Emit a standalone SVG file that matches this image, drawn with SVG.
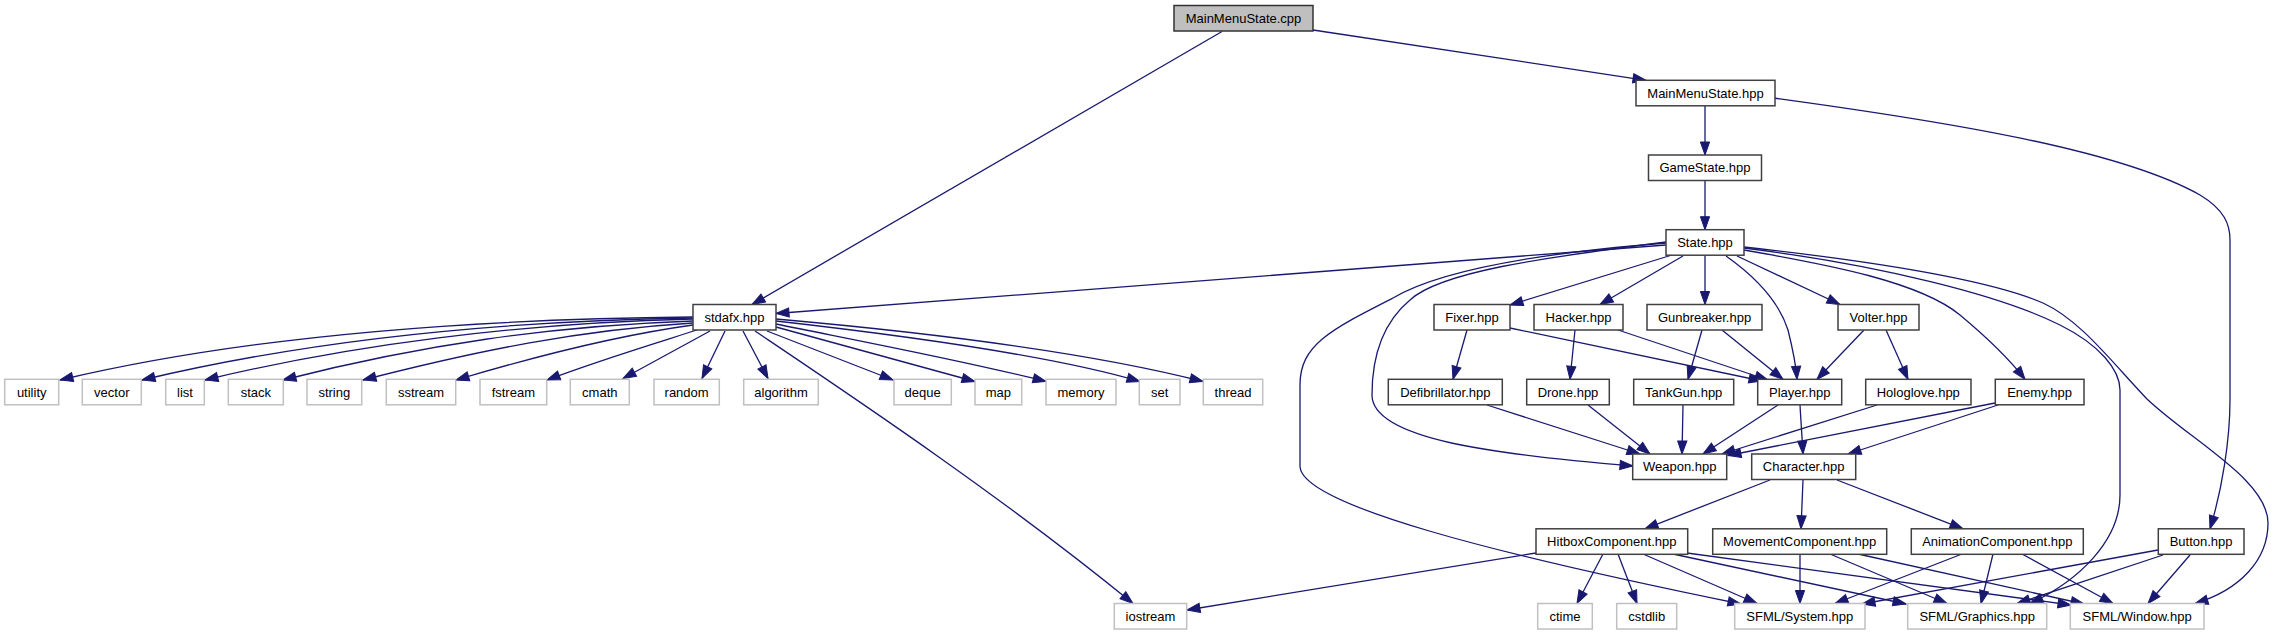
<svg xmlns="http://www.w3.org/2000/svg" width="2275" height="635" viewBox="0 0 2275 635">
<style>
.n rect{fill:#fff;stroke:#404040;stroke-width:1.5}
.l rect{fill:#fff;stroke:#c0c0c0;stroke-width:1.5}
.root rect{fill:#bfbfbf;stroke:#333;stroke-width:1.5}
text{font-family:"Liberation Sans",Arial,sans-serif;font-size:13px;fill:#000;text-anchor:middle}
#edges path{fill:none;stroke:#191970;stroke-width:1.3;marker-end:url(#a)}
</style>
<defs>
<marker id="a" markerUnits="userSpaceOnUse" markerWidth="14" markerHeight="10" refX="13" refY="5" orient="auto" overflow="visible">
<path d="M0,0.4 L13,5 L0,9.6 z" fill="#191970" stroke="#191970" stroke-width="1"/>
</marker>
</defs>
<rect width="2275" height="635" fill="#fff"/>
<g id="edges">
<path d="M1222,31.5 L752,304.5"/>
<path d="M1313,30 L1646,80.3"/>
<path d="M1705,106 L1705,155"/>
<path d="M1705,180.5 L1705,229.7"/>
<path d="M1774,98 C1950,122 2120,150 2200,195 C2225,210 2230,225 2230,240 L2230,400 C2230,440 2222,490 2210,528.8"/>
<path d="M1666,245 L776,313.5"/>
<path d="M1666,243 C1540,253 1440,270 1393,298 C1330,330 1300,345 1300,385 L1300,466 C1300,505 1500,555 1741,604"/>
<path d="M1666,242 C1540,258 1440,272 1410,300 C1380,325 1372,360 1372,395 C1372,440 1500,455 1633,466"/>
<path d="M1672,255 L1510,305"/>
<path d="M1683,256 L1600,304.5"/>
<path d="M1705,255.2 L1705,304.5"/>
<path d="M1726,256 C1760,280 1780,305 1788,330 C1793,350 1796,365 1797,379.3"/>
<path d="M1737,256 L1840,304.5"/>
<path d="M1744,250 C1830,265 1920,282 1960,315 C1990,340 2010,360 2025,379.3"/>
<path d="M1744,248 C1880,265 2000,295 2060,325 C2100,345 2120,370 2120,390 L2120,495 C2120,540 2080,580 2030,603.5"/>
<path d="M1744,247 C1880,262 1990,280 2043,303 C2080,320 2110,360 2147,399 C2190,440 2268,480 2268,523 C2268,560 2240,590 2195,603.5"/>
<path d="M1467,330 L1453,379.3"/>
<path d="M1510,328 L1762,381"/>
<path d="M1575,330 L1570,379.3"/>
<path d="M1618,330 L1768,380"/>
<path d="M1702,330 L1688,379.3"/>
<path d="M1722,330 L1783,379.3"/>
<path d="M1864,330 L1817,379.3"/>
<path d="M1886,330 L1908,379.3"/>
<path d="M1487,405 L1640,454"/>
<path d="M1588,405 L1650,454"/>
<path d="M1683,405 L1682,454"/>
<path d="M1778,405 L1703,454"/>
<path d="M1800,405 L1803,454"/>
<path d="M1877,405 L1722,454"/>
<path d="M1995,403 L1728,455.5"/>
<path d="M1998,405 L1848,454"/>
<path d="M1770,480 L1645,528.8"/>
<path d="M1803,480 L1801,528.8"/>
<path d="M1837,480 L1963,528.8"/>
<path d="M1536,553 L1187,610"/>
<path d="M1603,554 L1577,603.5"/>
<path d="M1618,554 L1637,603.5"/>
<path d="M1643,554 L1757,603.5"/>
<path d="M1673,554 L1906,604"/>
<path d="M1687,553 L2071,605"/>
<path d="M1800,554 L1800,603.5"/>
<path d="M1830,554 L1947,603.5"/>
<path d="M1858,554 L2084,604"/>
<path d="M1962,554 L1835,603.5"/>
<path d="M1993,554 L1981,603.5"/>
<path d="M2022,554 L2113,603.5"/>
<path d="M2158,550 L1862,604"/>
<path d="M2163,555 L2017,603.5"/>
<path d="M2190,555 L2148,603.5"/>
<path d="M693,317 C480,319 250,335 60,380"/>
<path d="M693,318 C500,321 310,340 142,380"/>
<path d="M693,319 C520,323 350,345 205,380"/>
<path d="M693,321 C550,326 420,345 283,380"/>
<path d="M693,323 C580,330 480,350 363,380"/>
<path d="M693,325 C620,335 540,355 456,380"/>
<path d="M697,330 C650,345 600,360 547,380"/>
<path d="M710,331 L623,378.5"/>
<path d="M725,331 L702,378.5"/>
<path d="M743,331 L768,378.5"/>
<path d="M755,331 C850,395 1000,495 1133,603.5"/>
<path d="M767,331 L893,380"/>
<path d="M776,327 L975,381.5"/>
<path d="M776,324 C880,345 970,362 1046,381.5"/>
<path d="M776,321 C900,335 1050,355 1140,381.5"/>
<path d="M776,319 C900,330 1080,350 1203,381.5"/>
</g>
<g id="n_mainmenustate_cpp" class="root"><rect x="1174" y="5.5" width="139" height="25.5"/><text x="1243.5" y="22.8">MainMenuState.cpp</text></g>
<g id="n_mainmenustate_hpp" class="n"><rect x="1636" y="80.3" width="139" height="25.5"/><text x="1705.5" y="97.6">MainMenuState.hpp</text></g>
<g id="n_gamestate" class="n"><rect x="1648.5" y="155" width="113" height="25.5"/><text x="1705" y="172.3">GameState.hpp</text></g>
<g id="n_state" class="n"><rect x="1666" y="229.7" width="78" height="25.5"/><text x="1705" y="247">State.hpp</text></g>
<g id="n_stdafx" class="n"><rect x="693" y="304.5" width="83" height="25.5"/><text x="734.5" y="321.8">stdafx.hpp</text></g>
<g id="n_fixer" class="n"><rect x="1434" y="304.5" width="76" height="25.5"/><text x="1472" y="321.8">Fixer.hpp</text></g>
<g id="n_hacker" class="n"><rect x="1534" y="304.5" width="89" height="25.5"/><text x="1578.5" y="321.8">Hacker.hpp</text></g>
<g id="n_gunbreaker" class="n"><rect x="1647" y="304.5" width="115" height="25.5"/><text x="1704.5" y="321.8">Gunbreaker.hpp</text></g>
<g id="n_volter" class="n"><rect x="1838" y="304.5" width="81" height="25.5"/><text x="1878.5" y="321.8">Volter.hpp</text></g>
<g id="n_utility" class="l"><rect x="4.7" y="379.3" width="54" height="25.5"/><text x="31.7" y="396.6">utility</text></g>
<g id="n_vector" class="l"><rect x="82.3" y="379.3" width="59" height="25.5"/><text x="111.8" y="396.6">vector</text></g>
<g id="n_list" class="l"><rect x="165.7" y="379.3" width="38.6" height="25.5"/><text x="185" y="396.6">list</text></g>
<g id="n_stack" class="l"><rect x="228.3" y="379.3" width="55" height="25.5"/><text x="255.8" y="396.6">stack</text></g>
<g id="n_string" class="l"><rect x="307" y="379.3" width="54.7" height="25.5"/><text x="334.3" y="396.6">string</text></g>
<g id="n_sstream" class="l"><rect x="386.3" y="379.3" width="69.4" height="25.5"/><text x="421" y="396.6">sstream</text></g>
<g id="n_fstream" class="l"><rect x="480" y="379.3" width="66.7" height="25.5"/><text x="513.3" y="396.6">fstream</text></g>
<g id="n_cmath" class="l"><rect x="570.3" y="379.3" width="59" height="25.5"/><text x="599.8" y="396.6">cmath</text></g>
<g id="n_random" class="l"><rect x="654" y="379.3" width="65.3" height="25.5"/><text x="686.6" y="396.6">random</text></g>
<g id="n_algorithm" class="l"><rect x="743.7" y="379.3" width="74.6" height="25.5"/><text x="781" y="396.6">algorithm</text></g>
<g id="n_deque" class="l"><rect x="894" y="379.3" width="57.3" height="25.5"/><text x="922.6" y="396.6">deque</text></g>
<g id="n_map" class="l"><rect x="975" y="379.3" width="46.7" height="25.5"/><text x="998.3" y="396.6">map</text></g>
<g id="n_memory" class="l"><rect x="1046" y="379.3" width="70" height="25.5"/><text x="1081" y="396.6">memory</text></g>
<g id="n_set" class="l"><rect x="1139.3" y="379.3" width="40.7" height="25.5"/><text x="1159.6" y="396.6">set</text></g>
<g id="n_thread" class="l"><rect x="1203.3" y="379.3" width="59.4" height="25.5"/><text x="1233" y="396.6">thread</text></g>
<g id="n_defibrillator" class="n"><rect x="1388.3" y="379.3" width="114" height="25.5"/><text x="1445.3" y="396.6">Defibrillator.hpp</text></g>
<g id="n_drone" class="n"><rect x="1526.7" y="379.3" width="82.6" height="25.5"/><text x="1568" y="396.6">Drone.hpp</text></g>
<g id="n_tankgun" class="n"><rect x="1633.7" y="379.3" width="100" height="25.5"/><text x="1683.7" y="396.6">TankGun.hpp</text></g>
<g id="n_player" class="n"><rect x="1757.7" y="379.3" width="84" height="25.5"/><text x="1799.7" y="396.6">Player.hpp</text></g>
<g id="n_hologlove" class="n"><rect x="1865.7" y="379.3" width="105.3" height="25.5"/><text x="1918.3" y="396.6">Hologlove.hpp</text></g>
<g id="n_enemy" class="n"><rect x="1995.3" y="379.3" width="88.7" height="25.5"/><text x="2039.6" y="396.6">Enemy.hpp</text></g>
<g id="n_weapon" class="n"><rect x="1632.7" y="454" width="94" height="25.5"/><text x="1679.7" y="471.3">Weapon.hpp</text></g>
<g id="n_character" class="n"><rect x="1751.7" y="454" width="104" height="25.5"/><text x="1803.7" y="471.3">Character.hpp</text></g>
<g id="n_hitbox" class="n"><rect x="1536" y="528.8" width="151.7" height="25.5"/><text x="1611.8" y="546.1">HitboxComponent.hpp</text></g>
<g id="n_movement" class="n"><rect x="1712.7" y="528.8" width="174" height="25.5"/><text x="1799.7" y="546.1">MovementComponent.hpp</text></g>
<g id="n_animation" class="n"><rect x="1911.3" y="528.8" width="172" height="25.5"/><text x="1997.3" y="546.1">AnimationComponent.hpp</text></g>
<g id="n_button" class="n"><rect x="2158.3" y="528.8" width="85.7" height="25.5"/><text x="2201.1" y="546.1">Button.hpp</text></g>
<g id="n_iostream" class="l"><rect x="1114.3" y="603.5" width="72.4" height="25.5"/><text x="1150.5" y="620.8">iostream</text></g>
<g id="n_ctime" class="l"><rect x="1537.7" y="603.5" width="54.6" height="25.5"/><text x="1565" y="620.8">ctime</text></g>
<g id="n_cstdlib" class="l"><rect x="1616.7" y="603.5" width="60" height="25.5"/><text x="1646.7" y="620.8">cstdlib</text></g>
<g id="n_sfml_system" class="l"><rect x="1734.7" y="603.5" width="130.3" height="25.5"/><text x="1799.8" y="620.8">SFML/System.hpp</text></g>
<g id="n_sfml_graphics" class="l"><rect x="1907.7" y="603.5" width="139" height="25.5"/><text x="1977.2" y="620.8">SFML/Graphics.hpp</text></g>
<g id="n_sfml_window" class="l"><rect x="2070.3" y="603.5" width="133.7" height="25.5"/><text x="2137.1" y="620.8">SFML/Window.hpp</text></g>
</svg>
